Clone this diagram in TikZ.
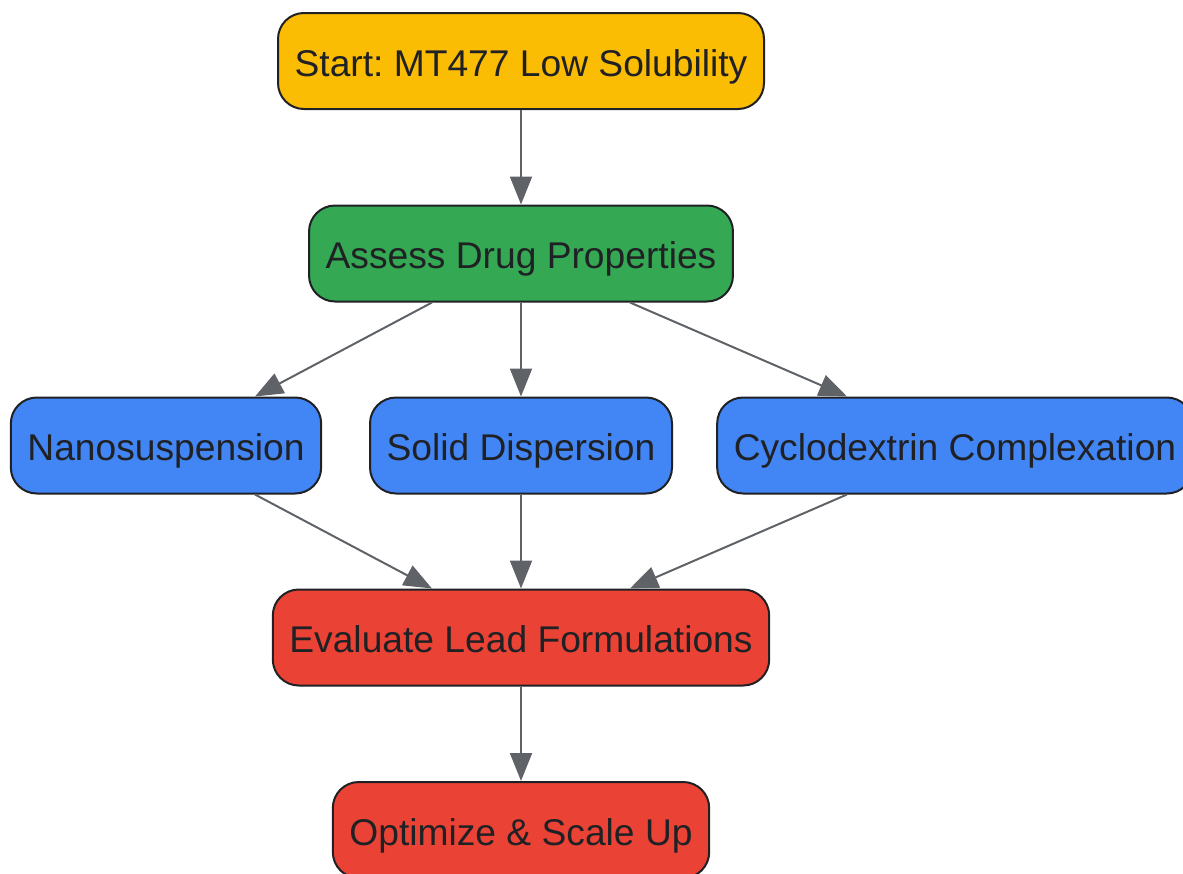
\documentclass[tikz,border=0pt]{standalone}
\usepackage{fontspec}
\setmainfont{Liberation Sans}
\usetikzlibrary{arrows.meta}
\frenchspacing

\definecolor{startcol}{HTML}{FBBC04}
\definecolor{assesscol}{HTML}{34A853}
\definecolor{methodcol}{HTML}{4285F4}
\definecolor{evalcol}{HTML}{EA4335}
\definecolor{inkcol}{HTML}{202124}
\definecolor{edgecol}{HTML}{5F6368}

\begin{document}
\begin{tikzpicture}[x=0.5pt, y=-0.5pt,
    box/.style={draw=inkcol, line width=1pt, rounded corners=13pt, text=inkcol,
        font=\fontsize{18.6pt}{22pt}\selectfont, minimum height=48pt, inner xsep=8.3pt,
        text height=15pt, text depth=0pt},
    arr/.style={draw=edgecol, line width=1pt, -{Triangle[length=14pt, width=11pt]}}]
            \path[use as bounding box, clip] (0,0) rectangle (1183,873);

            \node[box, fill=startcol] (start) at (521,61) {Start: MT477 Low Solubility};
            \node[box, fill=assesscol] (assess) at (521,253.5) {Assess Drug Properties};
            \node[box, fill=methodcol] (nano) at (166,445.5) {Nanosuspension};
            \node[box, fill=methodcol] (solid) at (521,445.5) {Solid Dispersion};
            \node[box, fill=methodcol] (cyclo) at (955,445.5) {Cyclodextrin Complexation};
            \node[box, fill=evalcol] (eval) at (521,637.5) {Evaluate Lead Formulations};
            \node[box, fill=evalcol] (opt) at (521,830) {Optimize \& Scale Up};

            \draw[arr] (start) -- (assess);
            \draw[arr] ([xshift=-44.5pt]assess.south) -- ([xshift=44.5pt]nano.north);
            \draw[arr] (assess) -- (solid);
            \draw[arr] ([xshift=54.5pt]assess.south) -- ([xshift=-54pt]cyclo.north);
            \draw[arr] ([xshift=44.5pt]nano.south) -- ([xshift=-44.5pt]eval.north);
            \draw[arr] (solid) -- (eval);
            \draw[arr] ([xshift=-54pt]cyclo.south) -- ([xshift=54.5pt]eval.north);
            \draw[arr] (eval) -- (opt);
        \end{tikzpicture}
\end{document}
